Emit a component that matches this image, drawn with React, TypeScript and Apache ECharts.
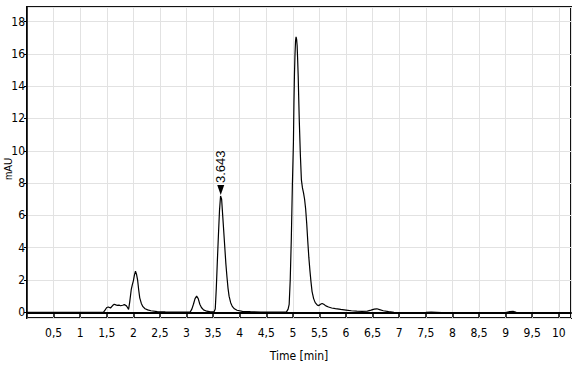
import React, { useEffect, useRef } from "react";
import * as echarts from "echarts";

const times = [
  0, 0.3, 0.7, 1.0, 1.3, 1.44, 1.47, 1.5, 1.53, 1.57, 1.61, 1.64, 1.67, 1.7, 1.73, 1.76, 1.8, 1.83, 1.87, 1.89,
  1.91, 1.93, 1.96, 1.98, 2.0, 2.02, 2.04, 2.06, 2.08, 2.1, 2.12, 2.15, 2.18, 2.22, 2.27, 2.33, 2.45, 2.6, 2.8,
  3.0, 3.07, 3.1, 3.13, 3.16, 3.19, 3.22, 3.25, 3.28, 3.32, 3.38, 3.45, 3.52, 3.54, 3.56, 3.58, 3.6, 3.62, 3.64,
  3.66, 3.68, 3.7, 3.72, 3.74, 3.76, 3.78, 3.8, 3.83, 3.86, 3.9, 3.95, 4.05, 4.2, 4.4, 4.6, 4.8, 4.88, 4.91, 4.93,
  4.95, 4.97, 4.99, 5.01, 5.02, 5.03, 5.04, 5.05, 5.06, 5.07, 5.08, 5.09, 5.1, 5.11, 5.12, 5.14, 5.16, 5.18, 5.2,
  5.22, 5.24, 5.26, 5.28, 5.3, 5.32, 5.34, 5.36, 5.39, 5.42, 5.46, 5.49, 5.52, 5.55, 5.58, 5.62, 5.67, 5.73, 5.8,
  5.9, 6.0, 6.1, 6.2, 6.3, 6.4, 6.47, 6.53, 6.58, 6.63, 6.7, 6.8, 6.9, 7.0, 7.3, 7.5, 7.6, 7.8, 8.0, 8.5, 9.0,
  9.08, 9.14, 9.2, 9.5, 10.0,
];

const mau = [
  0, 0, 0, 0, 0, 0.01, 0.15, 0.3, 0.33, 0.27, 0.42, 0.5, 0.46, 0.43, 0.45, 0.41, 0.44, 0.48, 0.4, 0.3,
  0.18, 0.6, 1.4, 1.7, 1.95, 2.3, 2.55, 2.35, 2.0, 1.4, 0.9, 0.55, 0.35, 0.22, 0.15, 0.1, 0.05, 0.03, 0.02,
  0.01, 0.03, 0.2, 0.5, 0.85, 1.0, 0.85, 0.5, 0.3, 0.15, 0.07, 0.03, 0.05, 0.2, 1.5, 3.2, 4.8, 6.3, 7.2,
  7.0, 6.0, 5.0, 4.0, 3.0, 2.2, 1.5, 1.0, 0.6, 0.37, 0.22, 0.13, 0.06, 0.04, 0.02, 0.01, 0.01, 0.03, 0.2, 0.5,
  2.0, 4.5, 7.8, 10.5, 13.0, 14.8, 16.0, 16.8, 17.05, 16.9, 16.5, 15.6, 14.6, 13.2, 11.9, 9.8, 8.2, 7.7, 7.4,
  7.0, 6.4, 5.5, 4.4, 3.4, 2.6, 1.9, 1.3, 0.85, 0.6, 0.45, 0.42, 0.5, 0.55, 0.5, 0.4, 0.33, 0.27, 0.23,
  0.18, 0.14, 0.1, 0.07, 0.06, 0.08, 0.14, 0.2, 0.22, 0.17, 0.1, 0.04, 0, -0.02, -0.01, 0, 0.01, -0.02, -0.02, -0.02, -0.01,
  0.05, 0.06, 0, -0.02, -0.02,
];

const peakLabel = "3.643";
const peakTime = 3.643;
const peakValue = 7.2;

const narrow = "'Liberation Sans Narrow', 'DejaVu Sans Condensed', 'Liberation Sans', Arial, sans-serif";

export default function App() {
  const ref = useRef<HTMLDivElement>(null);
  useEffect(() => {
    document.body.style.margin = "0";
    const chart = echarts.init(ref.current!, null, { renderer: "svg" });
    const data = times.map((t, i) => [t, mau[i]]);
    chart.setOption({
      animation: false,
      backgroundColor: "#ffffff",
      grid: {
        left: 27,
        right: 5,
        top: 7,
        bottom: 54,
        show: true,
        borderColor: "#111",
        borderWidth: 2,
      },
      xAxis: {
        type: "value",
        min: 0,
        max: 10.23,
        interval: 0.5,
        name: "Time [min]",
        nameLocation: "middle",
        nameGap: 32,
        nameTextStyle: { color: "#000", fontFamily: narrow, fontSize: 12 },
        axisLine: { show: true, lineStyle: { color: "#000", width: 2 } },
        axisTick: { show: true, length: 5, lineStyle: { color: "#000", width: 1.5 } },
        axisLabel: {
          color: "#000",
          fontFamily: narrow,
          fontSize: 12,
          margin: 9,
          showMinLabel: false,
          showMaxLabel: false,
          formatter: (v: number) => (v > 10.01 || v === 0 ? "" : String(v).replace(".", ",")),
        },
        splitLine: { show: true, lineStyle: { color: "#e2e2e2", width: 1 } },
      },
      yAxis: {
        type: "value",
        min: -0.35,
        max: 18.9,
        splitNumber: 10,
        axisLine: { show: true, lineStyle: { color: "#000", width: 1.5 } },
        axisTick: { show: true, length: 3, lineStyle: { color: "#000", width: 1 } },
        axisLabel: {
          color: "#000",
          fontFamily: narrow,
          fontSize: 12,
          margin: 2,
          showMinLabel: false,
          showMaxLabel: false,
        },
        splitLine: { show: true, lineStyle: { color: "#e2e2e2", width: 1 } },
      },
      graphic: [
        {
          type: "text",
          x: 8,
          y: 169,
          rotation: Math.PI / 2,
          style: {
            text: "mAU",
            fill: "#000",
            font: "10px 'Liberation Sans', Arial, sans-serif",
            align: "center",
            verticalAlign: "middle",
          },
        },
      ],
      series: [
        {
          type: "line",
          data,
          symbol: "none",
          lineStyle: { color: "#000", width: 1.2 },
          markPoint: {
            symbol: "triangle",
            symbolRotate: 180,
            symbolSize: [7, 10],
            symbolOffset: [0, -6],
            itemStyle: { color: "#000" },
            data: [
              {
                coord: [peakTime, peakValue],
                label: {
                  show: true,
                  formatter: peakLabel,
                  position: "top",
                  distance: 2,
                  rotate: 90,
                  align: "left",
                  verticalAlign: "middle",
                  color: "#000",
                  fontSize: 13,
                  fontFamily: "'Liberation Sans', Arial, sans-serif",
                },
              },
            ],
          },
        },
      ],
    });
    return () => chart.dispose();
  }, []);
  return <div ref={ref} style={{ width: 576, height: 372 }} />;
}
